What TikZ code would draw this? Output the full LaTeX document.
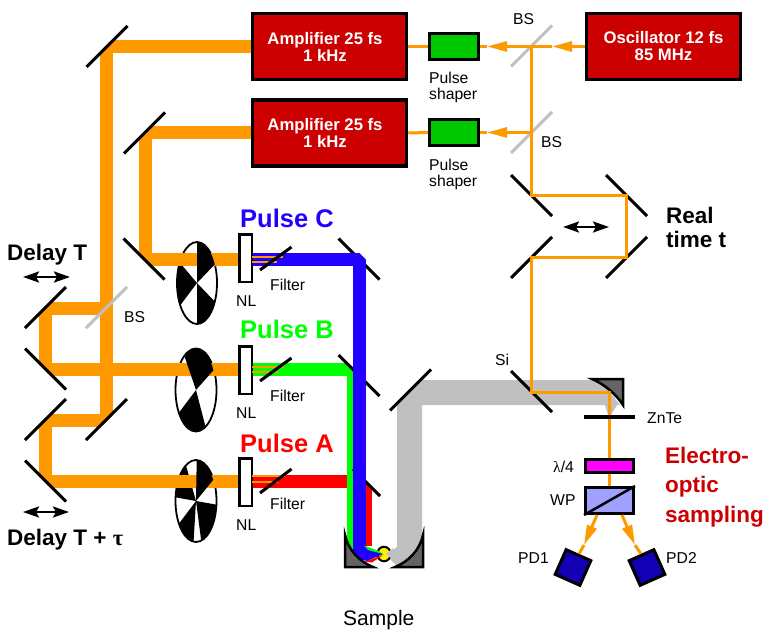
\documentclass[tikz,border=0pt]{standalone}
\usepackage{fontspec}
\setmainfont{Liberation Sans}
\newfontfamily\greekfont{Liberation Serif}
\usetikzlibrary{arrows.meta}

\definecolor{beamorange}{HTML}{FF9900}
\definecolor{boxred}{HTML}{CC0000}
\definecolor{shapergreen}{HTML}{00C800}
\definecolor{pulseblue}{HTML}{2200FF}
\definecolor{beamgray}{HTML}{C0C0C0}
\definecolor{paragray}{HTML}{646464}
\definecolor{wplav}{HTML}{A0A0FF}
\definecolor{pdblue}{HTML}{1400B4}
\definecolor{lampink}{HTML}{FF00FF}

\tikzset{
  redbox/.style={draw=black,fill=boxred,line width=3.5pt,minimum width=154pt,minimum height=66pt,inner sep=0pt,
    text=white,align=center,font=\fontsize{16.7}{17}\selectfont\bfseries},
  shaperbox/.style={draw=black,fill=shapergreen,line width=3pt,minimum width=49pt,minimum height=26pt,inner sep=0pt},
  nlbox/.style={draw=black,fill=white,line width=2.5pt,minimum width=12.5pt,minimum height=47.5pt,inner sep=0pt},
  pdbox/.style={draw=black,fill=pdblue,line width=3pt,minimum size=27pt,inner sep=0pt},
  mirror/.style={draw=black,line width=3pt},
  splitter/.style={draw=beamgray,line width=3pt},
  pump/.style={draw=beamorange,line width=13pt,line join=bevel},
  pulse/.style={line width=13pt,line join=bevel},
  thinbeam/.style={draw=beamorange,line width=3pt},
  midtip/.style={-{Triangle[length=20pt,width=10pt]}},
  para/.style={draw=black,fill=paragray,line width=2.5pt,line join=miter},
  shift arrow/.style={line width=2.6pt,{Stealth[length=16pt,width=11pt,inset=3pt]}-{Stealth[length=16pt,width=11pt,inset=3pt]}},
  lbl/.style={inner sep=0pt,anchor=base west,font=\fontsize{15.7}{18}\selectfont},
  bigbold/.style={inner sep=0pt,anchor=base west,font=\fontsize{22.5}{25}\selectfont\bfseries},
  pulselbl/.style={inner sep=0pt,anchor=base west,font=\fontsize{25.5}{28}\selectfont\bfseries}
}

\newcommand{\blade}[4]{\fill[black] (#1,#2) -- ++(#3:20pt and 41pt) arc[start angle=#3,end angle=#4,x radius=20pt,y radius=41pt] -- cycle;}

\begin{document}
\begin{tikzpicture}[x=1pt,y=-1pt]
  \useasboundingbox (0,0) rectangle (767,631);

  \node[redbox] (ampa) at (329.5,46.5) {Amplifier 25 fs\kern 9pt\\1 kHz\kern 9pt};
  \node[redbox] (ampb) at (329.5,133) {Amplifier 25 fs\kern 9pt\\1 kHz\kern 9pt};
  \node[redbox] (osc) at (663.5,46.5) {Oscillator 12 fs\\85 MHz};
  \node[shaperbox] (shapera) at (454,46.5) {};
  \node[shaperbox] (shaperb) at (454,132.5) {};
  \node[nlbox] (nlc) at (245.5,258) {};
  \node[nlbox] (nlb) at (245.5,370) {};
  \node[nlbox] (nla) at (245.5,482) {};
  \node[pdbox,rotate=-24] (pdone) at (573,567.5) {};
  \node[pdbox,rotate=24] (pdtwo) at (647,567.5) {};

  \coordinate (bstop) at (531.5,46.5);
  \coordinate (bslow) at (531.5,132.5);
  \coordinate (tipa) at (552,46.5);
  \coordinate (tipb) at (487,46.5);
  \coordinate (tipc) at (487,132.5);
  \coordinate (mirfa) at (531.5,195.5);
  \coordinate (mirfb) at (626.5,195.5);
  \coordinate (mirfc) at (626.5,257.5);
  \coordinate (mirfd) at (531.5,257.5);
  \coordinate (sibeam) at (531.5,392);
  \coordinate (probe) at (609.5,392);
  \coordinate (tlm) at (106.5,46.5);
  \coordinate (bsdelay) at (106.5,308);
  \coordinate (brm) at (106.5,420);
  \coordinate (dla) at (45.5,420);
  \coordinate (dlb) at (45.5,481.5);
  \coordinate (dlc) at (45.5,308);
  \coordinate (dld) at (45.5,369.5);
  \coordinate (trm) at (145,133);
  \coordinate (trn) at (145,259.5);
  \coordinate (cmir) at (359,259.5);
  \coordinate (bmir) at (353.5,369.5);
  \coordinate (amir) at (365,481.5);
  \coordinate (cend) at (359,552);
  \coordinate (bend) at (353.5,552);
  \coordinate (aend) at (365,546);

  \fill[beamgray] (420,380) -- (600,380) -- (620,405) -- (617,405) -- (609,418) -- (605,405) -- (422,405) -- (422,555)
    -- (397,566) -- (388,557) -- (388,553) -- (397,547) -- (397,403) -- cycle;

  \draw[black,line width=1.8pt,fill=white] (197,283) ellipse [x radius=20,y radius=41];
  \draw[black,line width=1.8pt,fill=white] (196,390) ellipse [x radius=20.5,y radius=41.5];
  \draw[black,line width=1.8pt,fill=white] (196,501) ellipse [x radius=20.5,y radius=41];
  \blade{197}{283}{150}{213}
  \blade{197}{283}{270}{333}
  \blade{196}{390}{213}{298}
  \blade{196}{501}{120}{175}
  \blade{196}{501}{213}{263}
  \blade{196}{501}{285}{355}

  \draw[pump] (ampa.west) -- (tlm) -- (brm) -- (dla) -- (dlb) -- (dlb -| nla.west);
  \draw[pump] (bsdelay) -- (dlc) -- (dld) -- (dld -| nlb.west);
  \draw[pump] (ampb.west) -- (trm) -- (trn) -- (trn -| nlc.west);

  \blade{197}{283}{27}{90}
  \blade{196}{390}{29}{125}
  \blade{196}{501}{31}{88}

  \draw[pulse,draw=red] (amir -| nla.east) -- (amir) -- (aend);
  \draw[pulse,draw=green] (bmir -| nlb.east) -- (bmir) -- (bend);
  \draw[beamorange,line width=1.8pt] (252,476) -- (285,476);
  \draw[beamorange,line width=1.8pt] (252,482) -- (278,482);
  \draw[beamorange,line width=1.8pt] (252,366.7) -- (284,366.7);
  \draw[beamorange,line width=1.8pt] (252,371.7) -- (278,371.7);

  \foreach \x/\y/\ox/\oy in {106.5/46.5/-1/-1,106.5/420/1/1,45.5/420/-1/-1,45.5/481.5/-1/1,45.5/308/-1/-1,45.5/369.5/-1/1,
      145/133/-1/-1,145/259.5/-1/1,359/259.5/1/-1,353.5/369.5/1/-1,365/481.5/1/-1}
    \draw[white,line width=6pt] (\x+3*\ox+8*\oy,\y+3*\oy-8*\ox) -- (\x+3*\ox-8*\oy,\y+3*\oy+8*\ox);

  \foreach \x/\y in {359/259,359/375.5,531.5/195.5,626.5/195.5,45.5/369,45.5/481,144/259,531.5/391.5}
    \draw[mirror] (\x-20.5,\y-20.5) -- (\x+20.5,\y+20.5);
  \draw[mirror] (353,469) -- (380,496);
  \foreach \x/\y in {107/46.5,144.5/133,45.5/307.5,45.5/419.5,106.5/419.5,531.5/257.5,626.5/257.5,410.5/390}
    \draw[mirror] (\x-20.5,\y+20.5) -- (\x+20.5,\y-20.5);
  \foreach \x/\y in {106.5/307.5,531.5/46,531.5/132.5}
    \draw[splitter] (\x-20.5,\y+20.5) -- (\x+20.5,\y-20.5);

  \draw[pulse,draw=pulseblue] (cmir -| nlc.east) -- (cmir) -- (cend);
  \draw[beamorange,line width=1.8pt] (252,256.7) -- (283,256.7);
  \draw[beamorange,line width=1.8pt] (252,261.7) -- (277,261.7);
  \draw[mirror] (260,270) -- (291.5,247);
  \draw[mirror] (260,381) -- (291.5,358);
  \draw[mirror] (260,493) -- (291.5,469);

  \draw[black,line width=2pt,fill=yellow] (384,554) ellipse [x radius=6.7,y radius=7.3];
  \fill[pulseblue] (353,548) -- (365,546) -- (383,554) -- (367,561) -- (353,558) -- cycle;
  \fill[green] (364,545.5) -- (379,551) -- (383,554) -- (368,550) -- cycle;
  \fill[red] (365,561.5) -- (372,562.5) -- (383,555) -- cycle;
  \fill[beamgray] (393,548) -- (386,554) -- (393,560) -- cycle;

  \draw[para] (345,535) .. controls (348,550) and (360,562) .. (373,567) -- (345,567) -- cycle;
  \draw[para] (423,535) .. controls (420,550) and (408,562) .. (395,567) -- (423,567) -- cycle;
  \draw[para] (592,379) .. controls (604,384) and (616,394) .. (623,405) -- (623,379) -- cycle;

  \draw[thinbeam,midtip] (osc.west) -- (tipa);
  \draw[thinbeam] (tipa) -- (bstop);
  \draw[thinbeam,midtip] (bstop) -- (tipb);
  \draw[thinbeam] (tipb) -- (shapera.east);
  \draw[thinbeam] (shapera.west) -- (ampa.east);
  \draw[thinbeam,midtip] (bslow) -- (tipc);
  \draw[thinbeam] (tipc) -- (shaperb.east);
  \draw[thinbeam] (shaperb.west) -- (ampb.east);

  \node[draw=black,fill=lampink,line width=3pt,minimum width=48pt,minimum height=13pt,inner sep=0pt] (lamb) at (609.5,466) {};
  \node[draw=black,fill=wplav,line width=3pt,minimum width=48pt,minimum height=26pt,inner sep=0pt] (wp) at (609.5,500.5) {};
  \draw[black,line width=2.5pt] (wp.south west) -- (wp.north east);

  \draw[thinbeam] (bstop) -- (mirfa) -- (mirfb) -- (mirfc) -- (mirfd) -- (sibeam) -- (probe) -- (lamb.north);
  \draw[thinbeam] (lamb.south) -- (wp.north);
  \draw[black,line width=3.5pt] (584,417) -- (634.5,417);

  \coordinate (wpl) at (597,515);
  \coordinate (wpr) at (622,515);
  \coordinate (tipd) at (584,545);
  \coordinate (tipe) at (635,545);
  \draw[thinbeam,midtip] (wpl) -- (tipd);
  \draw[thinbeam] (tipd) -- (pdone.north);
  \draw[thinbeam,midtip] (wpr) -- (tipe);
  \draw[thinbeam] (tipe) -- (pdtwo.north);

  \coordinate (dta) at (23,277);
  \coordinate (dtb) at (70,277);
  \coordinate (dtc) at (23,512);
  \coordinate (dtd) at (69,512);
  \coordinate (rta) at (563,227);
  \coordinate (rtb) at (609,227);
  \draw[shift arrow] (dta) -- (dtb);
  \draw[shift arrow] (dtc) -- (dtd);
  \draw[shift arrow] (rta) -- (rtb);

  \node[pulselbl,text=pulseblue] (lblc) at (240,227) {Pulse C};
  \node[pulselbl,text=green] (lblb) at (240,338) {Pulse B};
  \node[pulselbl,text=red] (lbla) at (240,452) {Pulse A};
  \node[bigbold] (lbldelay) at (7,260) {Delay T};
  \node[bigbold] (lbldelaytau) at (7,545) {Delay T + {\greekfont τ}};
  \node[bigbold] (lblreal) at (666,223) {Real};
  \node[bigbold] (lbltime) at (666,247) {time t};
  \node[bigbold,text=boxred] (lbleoa) at (665,463) {Electro-};
  \node[bigbold,text=boxred] (lbleob) at (665,492) {optic};
  \node[bigbold,text=boxred] (lbleoc) at (665,522) {sampling};

  \node[lbl] (lblsha) at (429,84) {Pulse};
  \node[lbl] (lblshb) at (429,100) {shaper};
  \node[lbl] (lblshc) at (429,170) {Pulse};
  \node[lbl] (lblshd) at (429,186) {shaper};
  \node[lbl] (lblbsa) at (513,25) {BS};
  \node[lbl] (lblbsb) at (541,148) {BS};
  \node[lbl] (lblbsc) at (124,322) {BS};
  \node[lbl] (lblfc) at (270,290) {Filter};
  \node[lbl] (lblfb) at (270,401) {Filter};
  \node[lbl] (lblfa) at (270,509) {Filter};
  \node[lbl] (lblnlc) at (236,306) {NL};
  \node[lbl] (lblnlb) at (236,418) {NL};
  \node[lbl] (lblnla) at (236,530) {NL};
  \node[lbl] (lblsi) at (495,365) {Si};
  \node[lbl] (lblzn) at (647,423) {ZnTe};
  \node[lbl] (lbllam) at (553,472) {{\greekfont λ}/4};
  \node[lbl] (lblwp) at (550,505) {WP};
  \node[lbl] (lblpda) at (518,563) {PD1};
  \node[lbl] (lblpdb) at (666,563) {PD2};
  \node[lbl,font=\fontsize{21}{24}\selectfont] (lblsample) at (343,625) {Sample};
\end{tikzpicture}
\end{document}
